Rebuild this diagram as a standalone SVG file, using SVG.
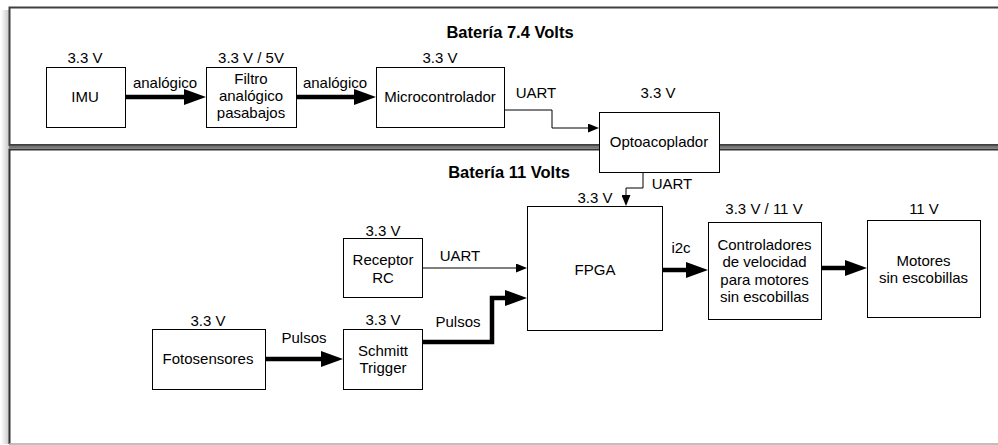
<svg xmlns="http://www.w3.org/2000/svg" width="998" height="445" viewBox="0 0 998 445">
<defs>
<linearGradient id="sh" x1="0" y1="0" x2="1" y2="0">
<stop offset="0" stop-color="#ffffff"/>
<stop offset="1" stop-color="#c8c8c8"/>
</linearGradient>
<marker id="ah" markerUnits="userSpaceOnUse" markerWidth="22" markerHeight="16" refX="4" refY="8" orient="auto"><path d="M0,0 L22,8 L0,16 Z" fill="#000"/></marker>
<marker id="at" markerUnits="userSpaceOnUse" markerWidth="11" markerHeight="9" refX="2" refY="4.5" orient="auto"><path d="M0,0 L11,4.5 L0,9 Z" fill="#000"/></marker>
</defs>
<style>
text{font-family:"Liberation Sans",Arial,Helvetica,sans-serif;font-size:15px;fill:#000;text-anchor:middle}
.title{font-weight:bold;font-size:16.5px}
.box{fill:#fff;stroke:#000;stroke-width:1}
.thick{fill:none;stroke:#000;stroke-width:4.5;marker-end:url(#ah)}
.thin{fill:none;stroke:#000;stroke-width:1;marker-end:url(#at)}
</style>
<rect width="998" height="445" fill="#fff"/>
<g id="containers">
<rect x="1" y="10" width="8" height="434" fill="url(#sh)"/>
<rect x="9.5" y="7.5" width="1000" height="137.5" fill="#fff" stroke="#404040" stroke-width="2"/>
<line x1="9" y1="147" x2="998" y2="147" stroke="#777" stroke-width="2.5"/>
<path d="M9.5,444 V149.5 H1000" fill="#fff" stroke="#333" stroke-width="2"/>
<line x1="9" y1="444" x2="998" y2="444" stroke="#aaa" stroke-width="1.5"/>
<text class="title" x="510" y="38">Batería 7.4 Volts</text>
<text class="title" x="509" y="178">Batería 11 Volts</text>
</g>
<g id="connectors">
<path class="thick" d="M125,97 H188"/>
<path class="thick" d="M296,97 H358"/>
<path class="thin" d="M504,110 H552 V128 H590"/>
<path class="thin" d="M643,172 V188 H626 V197"/>
<path class="thin" d="M422,268 H518"/>
<path class="thick" d="M265,359 H325"/>
<path class="thick" d="M422,342 H492 V298 H509"/>
<path class="thick" d="M662,270 H690"/>
<path class="thick" d="M821,268 H849"/>
<text x="165" y="88">analógico</text>
<text x="335" y="88">analógico</text>
<text x="536" y="98">UART</text>
<text x="672" y="189">UART</text>
<text x="460" y="261">UART</text>
<text x="681" y="253">i2c</text>
<text x="304" y="343">Pulsos</text>
<text x="458" y="327">Pulsos</text>
</g>
<g id="imu">
<text x="85" y="63">3.3 V</text>
<rect class="box" x="46.5" y="67.5" width="79" height="60"/>
<text x="85" y="102">IMU</text>
</g>
<g id="filtro">
<text x="251" y="63">3.3 V / 5V</text>
<rect class="box" x="206.5" y="67.5" width="90" height="60"/>
<text x="251" y="84">Filtro</text>
<text x="251" y="101">analógico</text>
<text x="251" y="118">pasabajos</text>
</g>
<g id="micro">
<text x="440" y="63">3.3 V</text>
<rect class="box" x="376.5" y="67.5" width="128" height="60"/>
<text x="440" y="102">Microcontrolador</text>
</g>
<g id="opto">
<text x="658" y="98">3.3 V</text>
<rect class="box" x="599.5" y="112.5" width="120" height="60"/>
<text x="659" y="147">Optoacoplador</text>
</g>
<g id="fpga">
<text x="595" y="203">3.3 V</text>
<rect class="box" x="527.5" y="206.5" width="135" height="124"/>
<text x="595" y="275">FPGA</text>
</g>
<g id="controladores">
<text x="764" y="214">3.3 V / 11 V</text>
<rect class="box" x="708.5" y="222.5" width="113" height="97"/>
<text x="764.5" y="250">Controladores</text>
<text x="764.5" y="267">de velocidad</text>
<text x="764.5" y="285">para motores</text>
<text x="764.5" y="302">sin escobillas</text>
</g>
<g id="motores">
<text x="924" y="214">11 V</text>
<rect class="box" x="867.5" y="220.5" width="113" height="97"/>
<text x="923.5" y="266">Motores</text>
<text x="923.5" y="283">sin escobillas</text>
</g>
<g id="receptor">
<text x="383" y="236">3.3 V</text>
<rect class="box" x="343.5" y="238.5" width="79" height="59"/>
<text x="383" y="265">Receptor</text>
<text x="383" y="283">RC</text>
</g>
<g id="fotosensores">
<text x="208" y="326">3.3 V</text>
<rect class="box" x="152.5" y="329.5" width="113" height="60"/>
<text x="208" y="364">Fotosensores</text>
</g>
<g id="schmitt">
<text x="383" y="325">3.3 V</text>
<rect class="box" x="343.5" y="329.5" width="79" height="60"/>
<text x="383" y="356">Schmitt</text>
<text x="383" y="373">Trigger</text>
</g>
</svg>
